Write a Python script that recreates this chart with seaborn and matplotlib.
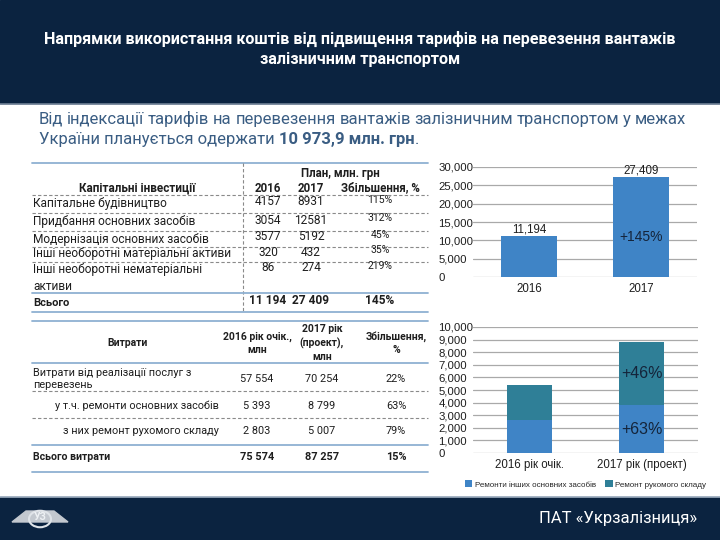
import numpy as np
import pandas as pd
import matplotlib
matplotlib.use("Agg")
import matplotlib.pyplot as plt
import seaborn as sns
from matplotlib.patches import Rectangle, Polygon, Circle
from matplotlib.lines import Line2D

# ---- data ----
title = "Напрямки використання коштів від підвищення тарифів на перевезення вантажів\nзалізничним транспортом"
sub_line1 = "Від індексації тарифів на перевезення вантажів залізничним транспортом у межах"
sub_line2 = ["України планується одержати ", "10 973,9 млн. грн", "."]

cap_items = ["Капітальне будівництво", "Придбання основних засобів",
             "Модернізація основних засобів", "Інші необоротні матеріальні активи",
             "Інші необоротні нематеріальні\nактиви"]
cap_2016 = ["4157", "3054", "3577", "320", "86"]
cap_2017 = ["8931", "12581", "5192", "432", "274"]
cap_growth = ["115%", "312%", "45%", "35%", "219%"]
cap_total = ["Всього", "11 194", "27 409", "145%"]

exp_items = ["Витрати від реалізації послуг з\nперевезень", "у т.ч. ремонти основних засобів",
             "з них ремонт рухомого складу"]
exp_2016 = ["57 554", "5 393", "2 803"]
exp_2017 = ["70 254", "8 799", "5 007"]
exp_growth = ["22%", "63%", "79%"]
exp_total = ["Всього витрати", "75 574", "87 257", "15%"]

years = ["2016", "2017"]
invest = [11194, 27409]
invest_growth = "+145%"

rep_years = ["2016 рік очік.", "2017 рік (проект)"]
repairs_total = np.array([5393, 8799])
rolling_stock = np.array([2803, 5007])
other_repairs = repairs_total - rolling_stock
rep_labels_upper = ["", "+46%"]
rep_labels_lower = ["", "+63%"]
legend_labels = ["Ремонти інших основних засобів", "Ремонт рукомого складу"]

# ---- style ----
sns.set_style("white")
plt.rcParams["font.family"] = ["Roboto", "DejaVu Sans"]

NAVY = "#0b2340"
BLUE = "#3f84c6"
TEAL = "#2f7f97"
TXT = "#1e1e1e"
LINE = "#8fb1d2"
DASH = "#8a8a8a"

W, H = 720, 540
fig = plt.figure(figsize=(7.2, 5.4), dpi=100)


def fx(x):
    return x / W


def fy(y):
    return 1 - y / H


def hline(x0, x1, y, dashed=False, color=None, lw=None):
    fig.add_artist(Line2D([fx(x0), fx(x1)], [fy(y), fy(y)], transform=fig.transFigure,
                          color=color or (DASH if dashed else LINE),
                          lw=lw or (0.8 if dashed else 1.3),
                          linestyle=(0, (3, 2)) if dashed else "-"))


def txt(x, y, s, **kw):
    kw.setdefault("color", TXT)
    kw.setdefault("va", "center")
    return fig.text(fx(x), fy(y), s, **kw)


# header and footer bands
fig.add_artist(Rectangle((0, fy(103)), 1, 103 / H, transform=fig.transFigure, color=NAVY, zorder=0))
hline(0, 720, 103.5, color="#6f8196", lw=1.2)
fig.add_artist(Rectangle((0, 0), 1, 43 / H, transform=fig.transFigure, color=NAVY, zorder=0))
hline(0, 720, 496.5, color="#9fb0c2", lw=1.2)
txt(360, 49, title, ha="center", color="white", fontsize=11.6, fontweight="bold", linespacing=1.35)
txt(697, 518, "ПАТ «Укрзалізниця»", ha="right", color="white", fontsize=12)

# simple logo
lx, ly = 40, 518
fig.add_artist(Polygon([[fx(lx - 28), fy(ly + 4)], [fx(lx - 14), fy(ly - 7)], [fx(lx + 14), fy(ly - 7)],
                        [fx(lx + 28), fy(ly + 4)]], closed=True, transform=fig.transFigure,
                       color="#c3c8cf", zorder=2))
fig.add_artist(Circle((fx(lx), fy(ly + 1)), 11 / W, transform=fig.transFigure, fill=False,
                      ec="#dfe3e8", lw=1.5, zorder=3))
txt(lx, ly - 1, "УЗ", ha="center", fontsize=7.5, fontweight="bold", color="#eef1f4", zorder=4)

# subtitle, first line justified
SUBC = "#3a5d83"
renderer = fig.canvas.get_renderer()
words = [txt(0, 124, w, fontsize=12, color=SUBC, va="baseline") for w in sub_line1.split()]
widths = [t.get_window_extent(renderer).width for t in words]
gap = (686 - 39 - sum(widths)) / (len(words) - 1)
x = 39
for t, w in zip(words, widths):
    t.set_x(fx(x))
    x += w + gap
x = 39
for part, weight in zip(sub_line2, ["normal", "bold", "normal"]):
    t = txt(x, 144, part, fontsize=12, color=SUBC, fontweight=weight, va="baseline")
    x += t.get_window_extent(renderer).width

# ---- table 1: capital investments ----
L, R = 32, 428
c16, c17, cgr = 268, 311, 380
hline(L, R, 163)
fig.add_artist(Line2D([fx(243), fx(243)], [fy(163), fy(311)], transform=fig.transFigure,
                      color=DASH, lw=0.8, linestyle=(0, (3, 2))))
txt(340, 173, "План, млн. грн", ha="center", fontsize=8.3, fontweight="bold")
txt(137, 188, "Капітальні інвестиції", ha="center", fontsize=8.5, fontweight="bold")
for x, s in zip([c16, c17, cgr], ["2016", "2017", "Збільшення, %"]):
    txt(x, 188, s, ha="center", fontsize=8.3, fontweight="bold")
hline(L, R, 195, dashed=True)
row_y = [204, 222, 239, 254, 270]
dash_y = [213, 231, 247, 262]
for i, name in enumerate(cap_items):
    y = row_y[i]
    if "\n" in name:
        a, b = name.split("\n")
        txt(L + 1, y, a, fontsize=8.6)
        txt(L + 1, y + 16, b, fontsize=8.6)
    else:
        txt(L + 1, y, name, fontsize=8.6)
    txt(c16, y - 2, cap_2016[i], ha="center", fontsize=8.6)
    txt(c17, y - 2, cap_2017[i], ha="center", fontsize=8.6)
    txt(cgr, y - 4, cap_growth[i], ha="center", fontsize=7.5)
for y in dash_y:
    hline(L, R, y, dashed=True)
hline(L, R, 293)
txt(L + 1, 303, cap_total[0], fontsize=8, fontweight="bold")
for x, s in zip([c16, c17, cgr], cap_total[1:]):
    txt(x, 301, s, ha="center", fontsize=8.6, fontweight="bold")
hline(L, R, 311.5)

# ---- table 2: expenses ----
e16, e17, egr = 257, 322, 396
hline(L, R, 321)
txt(128, 343, "Витрати", ha="center", fontsize=7.5, fontweight="bold")
txt(e16, 343, "2016 рік очік.,\nмлн", ha="center", fontsize=7.5, fontweight="bold", linespacing=1.4)
txt(e17, 343, "2017 рік\n(проект),\nмлн", ha="center", fontsize=7.5, fontweight="bold", linespacing=1.4)
txt(egr, 343, "Збільшення,\n%", ha="center", fontsize=7.5, fontweight="bold", linespacing=1.4)
hline(L, R, 363)
exp_y = [379, 406, 431]
exp_x = [33, 55, 63]
for i, name in enumerate(exp_items):
    y = exp_y[i]
    txt(exp_x[i], y, name, fontsize=7.8, linespacing=1.35)
    for x, s in zip([e16, e17, egr], [exp_2016[i], exp_2017[i], exp_growth[i]]):
        txt(x, y, s, ha="center", fontsize=7.8)
hline(L, R, 391, dashed=True)
hline(L, R, 418, dashed=True)
hline(L, R, 445)
txt(33, 457, exp_total[0], fontsize=7.6, fontweight="bold")
for x, s in zip([e16, e17, egr], exp_total[1:]):
    txt(x, 457, s, ha="center", fontsize=7.8, fontweight="bold")
hline(L, R, 472)

# ---- chart 1: investments ----
ax1 = fig.add_axes([fx(473), fy(277), 224 / W, 110 / H])
df1 = pd.DataFrame({"year": years, "value": invest})
sns.barplot(data=df1, x="year", y="value", color=BLUE, saturation=1, width=0.5, ax=ax1,
            zorder=3, linewidth=0)
ax1.bar_label(ax1.containers[0], labels=[f"{v:,}" for v in invest], padding=0,
              fontsize=8.3, family="Liberation Sans", color=TXT)
ax1.text(1, invest[1] * 0.4, invest_growth, ha="center", va="center", fontsize=10,
         family="Liberation Sans", color="#14243a", zorder=5)
ax1.set_ylim(0, 30000)
ax1.set_yticks(range(0, 30001, 5000))
ax1.set_xlim(-0.5, 1.5)

# ---- chart 2: repairs ----
ax2 = fig.add_axes([fx(473), fy(453), 225 / W, 126 / H])
df2 = pd.DataFrame({"year": rep_years, "total": repairs_total, "other": other_repairs})
sns.barplot(data=df2, x="year", y="total", color=TEAL, saturation=1, width=0.4, ax=ax2,
            zorder=3, label=legend_labels[1], linewidth=0)
sns.barplot(data=df2, x="year", y="other", color=BLUE, saturation=1, width=0.4, ax=ax2,
            zorder=4, label=legend_labels[0], linewidth=0)
for i in range(len(rep_years)):
    if rep_labels_upper[i]:
        ax2.text(i, other_repairs[i] + rolling_stock[i] / 2, rep_labels_upper[i], ha="center",
                 va="center", fontsize=11.5, family="Liberation Sans", color="#14243a", zorder=6)
    if rep_labels_lower[i]:
        ax2.text(i, other_repairs[i] / 2, rep_labels_lower[i], ha="center", va="center",
                 fontsize=11.5, family="Liberation Sans", color="#14243a", zorder=6)
ax2.set_ylim(0, 10000)
ax2.set_yticks(range(0, 10001, 1000))
ax2.set_xlim(-0.5, 1.5)
h, lab = ax2.get_legend_handles_labels()
ax2.legend(h[::-1], lab[::-1], loc="center", bbox_to_anchor=(0.5, -0.25), ncol=2, frameon=False,
           handlelength=0.9, handleheight=0.9, handletextpad=0.3, columnspacing=1.2,
           prop={"family": "Liberation Sans", "size": 5.8})

for ax in (ax1, ax2):
    ax.set_xlabel("")
    ax.set_ylabel("")
    ax.set_facecolor("none")
    sns.despine(ax=ax, left=True, bottom=True)
    ax.yaxis.grid(True, color="#a9a9a9", lw=0.9, zorder=0)
    ax.set_yticklabels([f"{int(v):,}" for v in ax.get_yticks()], family="Liberation Sans",
                       ha="left", fontsize=8.2, color=TXT)
    ax.tick_params(axis="y", length=0, pad=25)
    ax.tick_params(axis="x", length=0, pad=4, labelsize=8.3, labelcolor=TXT)
    for t in ax.get_xticklabels():
        t.set_family("Liberation Sans")

fig.savefig("out.png", dpi=100)
